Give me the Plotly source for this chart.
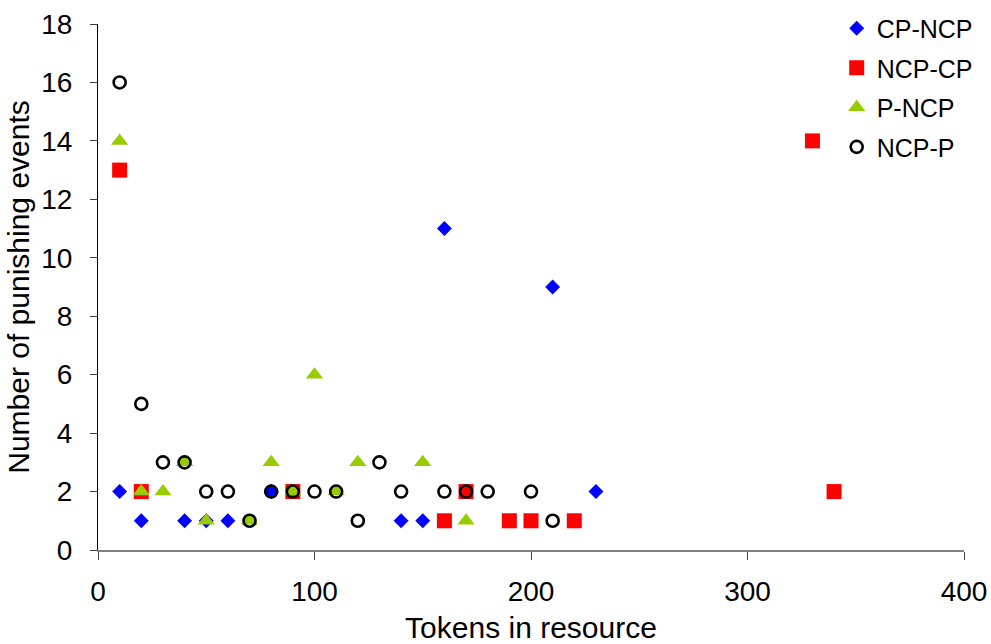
import plotly.graph_objects as go

# Punishing events per resource level, by treatment sequence
cp_ncp_x = [10, 20, 40, 50, 60, 80, 140, 150, 160, 210, 230]
cp_ncp_y = [2, 1, 1, 1, 1, 2, 1, 1, 11, 9, 2]

ncp_cp_x = [10, 20, 90, 160, 170, 190, 200, 220, 330, 340]
ncp_cp_y = [13, 2, 2, 1, 2, 1, 1, 1, 14, 2]

p_ncp_x = [10, 20, 30, 40, 50, 70, 80, 90, 100, 110, 120, 150, 170]
p_ncp_y = [14, 2, 2, 3, 1, 1, 3, 2, 6, 2, 3, 3, 1]

ncp_p_x = [10, 20, 30, 40, 50, 60, 70, 80, 90, 100, 110, 120, 130, 140, 160, 170, 180, 200, 210]
ncp_p_y = [16, 5, 3, 3, 2, 2, 1, 2, 2, 2, 2, 1, 3, 2, 2, 2, 2, 2, 1]

x_ticks = [0, 100, 200, 300, 400]
y_ticks = [0, 2, 4, 6, 8, 10, 12, 14, 16, 18]

FONT = "Liberation Sans, Arial, sans-serif"

fig = go.Figure()
fig.add_trace(go.Scatter(
    x=cp_ncp_x, y=cp_ncp_y, mode="markers", name="CP-NCP", legendgroup="a",
    marker=dict(symbol="diamond", size=11.5, color="#0000FF", line=dict(width=0)),
))
fig.add_trace(go.Scatter(
    x=ncp_cp_x, y=ncp_cp_y, mode="markers", name="NCP-CP", legendgroup="b",
    marker=dict(symbol="square", size=15, color="#FF0000", line=dict(width=0)),
))
fig.add_trace(go.Scatter(
    x=p_ncp_x, y=p_ncp_y, mode="markers", name="P-NCP", legendgroup="c",
    marker=dict(symbol="triangle-up", size=15, color="#99CC00", line=dict(width=0)),
))
fig.add_trace(go.Scatter(
    x=ncp_p_x, y=ncp_p_y, mode="markers", name="NCP-P", legendgroup="d",
    marker=dict(symbol="circle-open", size=12, color="#000000", line=dict(width=2.6, color="#000000")),
))

fig.update_layout(
    width=991, height=644,
    margin=dict(l=98, r=27, t=24, b=94, autoexpand=False),
    paper_bgcolor="white", plot_bgcolor="white",
    font=dict(family=FONT, color="black", size=28),
    showlegend=True,
    legend=dict(
        x=0.853, y=1.035, xanchor="left", yanchor="top",
        bgcolor="rgba(0,0,0,0)", borderwidth=0,
        font=dict(family=FONT, size=25, color="black"),
        itemwidth=30, tracegroupgap=4,
    ),
    xaxis=dict(
        range=[0, 400], tickvals=x_ticks, ticktext=[str(v) for v in x_ticks],
        showgrid=False, zeroline=False, automargin=False,
        showline=True, linecolor="#808080", linewidth=2,
        ticks="outside", ticklen=8, tickcolor="#404040", tickwidth=1,
        ticklabelstandoff=7,
        tickfont=dict(family=FONT, size=28),
        title=dict(text="Tokens in resource", font=dict(family=FONT, size=30), standoff=11),
    ),
    yaxis=dict(
        range=[0, 18], tickvals=y_ticks, ticktext=[str(v) for v in y_ticks],
        showgrid=False, zeroline=False, automargin=False,
        showline=True, linecolor="#000000", linewidth=1,
        ticks="outside", ticklen=7, tickcolor="#404040", tickwidth=1,
        ticklabelstandoff=12,
        tickfont=dict(family=FONT, size=28),
        title=dict(text="Number of punishing events", font=dict(family=FONT, size=30), standoff=2),
    ),
)

fig.write_html("out.html")
